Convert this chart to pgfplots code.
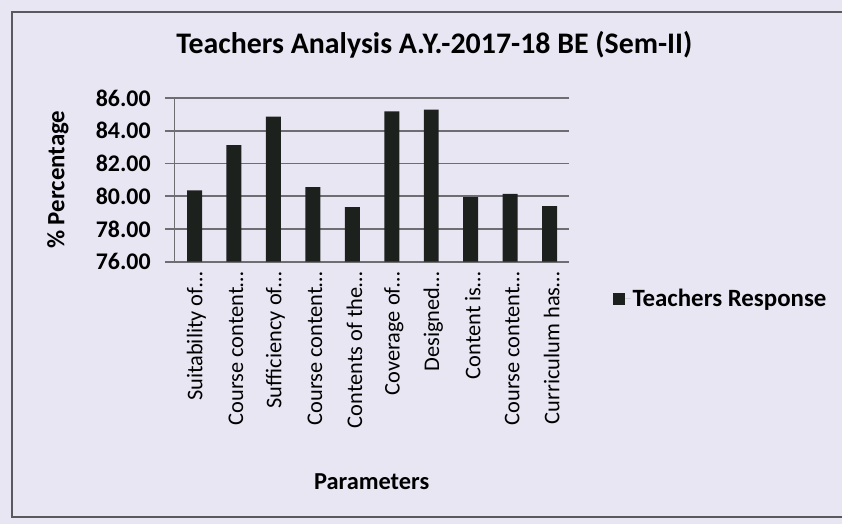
\documentclass[border=0pt]{standalone}
\usepackage{fontspec}
\setmainfont{Carlito}
\usepackage{pgfplots}
\pgfplotsset{compat=1.18}
\definecolor{bg}{HTML}{E9E6F3}
\definecolor{barc}{HTML}{1C211E}
\definecolor{gridc}{HTML}{6E6E72}
\definecolor{framec}{HTML}{5A5A5E}
\begin{document}
\begin{tikzpicture}
\fill[bg] (0bp,0bp) rectangle (843bp,525bp);
\draw[line width=2bp, framec] (843bp,7bp) -- (12bp,7bp) -- (12bp,513bp) -- (843bp,513bp);
\begin{axis}[
  at={(175bp,263bp)}, anchor=south west,
  scale only axis, width=395bp, height=164bp,
  ymin=76, ymax=86, ytick={76,78,...,86},
  xmin=-0.5, xmax=9.5, xtick={0,...,9},
  xticklabels={Suitability of…,Course content…,Sufficiency of…,Course content…,Contents of the…,Coverage of…,Designed…,Content is…,Course content…,Curriculum has…},
  ybar=0pt, bar width=15bp,
  axis lines*=left,
  axis line style={gridc, line width=1bp},
  x axis line style={gridc, line width=2bp},
  ymajorgrids, grid style={gridc, line width=1.8bp},
  tick align=outside, major tick length=10bp,
  ytick style={gridc, line width=1.8bp},
  xtick style={draw=none},
  /pgf/number format/.cd, fixed, fixed zerofill, precision=2, assume math mode=true,
  /pgfplots/.cd,
  yticklabel style={font=\bfseries\fontsize{24}{24}\selectfont, inner sep=0pt, anchor=east, xshift=-14bp},
  xticklabel style={font=\fontsize{22.5}{22.5}\selectfont, rotate=90, anchor=east, inner sep=0pt, yshift=-2bp},
  title={Teachers Analysis A.Y.-2017-18 BE (Sem-II)},
  title style={at={(rel axis cs:0.658,1.29)}, anchor=center, font=\bfseries\fontsize{30}{30}\selectfont},
  xlabel={Parameters},
  xlabel style={at={(rel axis cs:0.499,-1.341)}, anchor=center, font=\bfseries\fontsize{24.5}{24.5}\selectfont},
  ylabel={\% Percentage},
  ylabel style={at={(rel axis cs:-0.296,0.5)}, rotate=0, anchor=center, font=\bfseries\fontsize{25}{25}\selectfont},
  legend style={at={(rel axis cs:1.109,-0.226)}, anchor=west, draw=none, fill=none, font=\bfseries\fontsize{25}{25}\selectfont, inner sep=0pt},
  legend image code/.code={\fill[barc] (0bp,-6bp) rectangle (12bp,6bp); \path (0bp,0bp) -- (18bp,0bp);},
]
\addplot[fill=barc, draw=none] coordinates {
(0,80.35) (1,83.12) (2,84.86) (3,80.55) (4,79.33) (5,85.18) (6,85.29) (7,79.94) (8,80.14) (9,79.39)};
\addlegendentry{Teachers Response}
\end{axis}
\useasboundingbox (0bp,0bp) rectangle (843bp,525bp);
\end{tikzpicture}
\end{document}
